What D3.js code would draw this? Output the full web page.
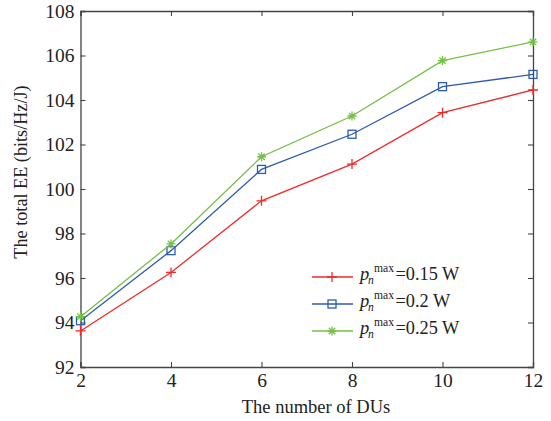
<!DOCTYPE html>
<html>
<head>
<meta charset="utf-8">
<script src="https://cdn.jsdelivr.net/npm/d3@7"></script>
<style>
  html, body { margin: 0; padding: 0; background: #fff; }
  svg { display: block; font-family: "Liberation Serif", "Times New Roman", serif; }
</style>
</head>
<body>
<svg id="chart" width="551" height="421"></svg>
<script>
// Number of DUs on the x axis
const dus = [2, 4, 6, 8, 10, 12];
// Total energy efficiency (bits/Hz/J) for each per-DU power budget
const ee015 = [93.62, 96.25, 99.47, 101.12, 103.43, 104.45];
const ee02  = [94.08, 97.23, 100.88, 102.46, 104.60, 105.15];
const ee025 = [94.26, 97.53, 101.45, 103.28, 105.77, 106.61];
const seriesLabels = ["=0.15 W", "=0.2 W", "=0.25 W"];
const xTicks = [2, 4, 6, 8, 10, 12];
const yTicks = [92, 94, 96, 98, 100, 102, 104, 106, 108];

const series = [
  { values: ee015, label: seriesLabels[0], color: "#ee2b2b", marker: "plus" },
  { values: ee02,  label: seriesLabels[1], color: "#2d5caf", marker: "square" },
  { values: ee025, label: seriesLabels[2], color: "#74c044", marker: "star" }
];

const svg = d3.select("#chart");
const m = { left: 80.5, right: 533, top: 11, bottom: 367 };
const x = d3.scaleLinear().domain([2, 12]).range([m.left, m.right]);
const y = d3.scaleLinear().domain([92, 108]).range([m.bottom, m.top]);
const axisColor = "#444";
const tickLen = 5;
const serif = "'Liberation Serif', 'Times New Roman', serif";

// Box-style axes with inward ticks on all four sides
const gx = svg.append("g").attr("transform", `translate(0,${m.bottom})`)
  .call(d3.axisBottom(x).tickValues(xTicks).tickSize(-tickLen).tickPadding(6.5).tickFormat(d3.format("d")));
const gxTop = svg.append("g").attr("transform", `translate(0,${m.top})`)
  .call(d3.axisTop(x).tickValues(xTicks).tickSize(-tickLen).tickFormat(""));
const gy = svg.append("g").attr("transform", `translate(${m.left},0)`)
  .call(d3.axisLeft(y).tickValues(yTicks).tickSize(-tickLen).tickPadding(6).tickFormat(d3.format("d")));
const gyR = svg.append("g").attr("transform", `translate(${m.right},0)`)
  .call(d3.axisRight(y).tickValues(yTicks).tickSize(-tickLen).tickFormat(""));

[gx, gxTop, gy, gyR].forEach(g => {
  g.select(".domain").attr("stroke", axisColor).attr("stroke-width", 1.3);
  g.selectAll(".tick line").attr("stroke", axisColor).attr("stroke-width", 1.1);
  g.selectAll(".tick text").attr("fill", "#222").style("font-size", "19.5px")
    .style("font-family", serif);
});
gy.selectAll(".tick text").attr("dy", "0.32em");

// Axis titles
svg.append("text")
  .attr("x", 316).attr("y", 413)
  .attr("text-anchor", "middle").attr("fill", "#222").style("font-size", "18.5px")
  .text("The number of DUs");
svg.append("text")
  .attr("transform", "translate(26.5,172) rotate(-90)")
  .attr("text-anchor", "middle").attr("fill", "#222").style("font-size", "18.2px")
  .text("The total EE (bits/Hz/J)");

// Marker drawing
function drawMarker(g, type, cx, cy, color) {
  if (type === "plus") {
    g.append("path").attr("d", `M${cx - 5},${cy}H${cx + 5}M${cx},${cy - 5}V${cy + 5}`)
      .attr("stroke", color).attr("stroke-width", 1.3).attr("fill", "none");
  } else if (type === "square") {
    g.append("rect").attr("x", cx - 4).attr("y", cy - 4).attr("width", 8).attr("height", 8)
      .attr("stroke", color).attr("stroke-width", 1.3).attr("fill", "none");
  } else {
    const r = 4.5, d = r * 0.7071;
    g.append("path")
      .attr("d", `M${cx - r},${cy}H${cx + r}M${cx},${cy - r}V${cy + r}M${cx - d},${cy - d}L${cx + d},${cy + d}M${cx - d},${cy + d}L${cx + d},${cy - d}`)
      .attr("stroke", color).attr("stroke-width", 1.3).attr("fill", "none");
  }
}

const line = d3.line().x((d, i) => x(dus[i])).y(d => y(d));
const plot = svg.append("g");
series.forEach(s => {
  plot.append("path").datum(s.values).attr("d", line)
    .attr("fill", "none").attr("stroke", s.color).attr("stroke-width", 1.3);
  s.values.forEach((v, i) => drawMarker(plot, s.marker, x(dus[i]), y(v), s.color));
});

// Legend (no frame)
const legend = svg.append("g");
const legX0 = 312, legX1 = 353, legY = [277, 304, 331];
series.forEach((s, i) => {
  const ly = legY[i];
  legend.append("line").attr("x1", legX0).attr("x2", legX1).attr("y1", ly).attr("y2", ly)
    .attr("stroke", s.color).attr("stroke-width", 1.3);
  drawMarker(legend, s.marker, 332, ly, s.color);
  legend.append("text").attr("x", 360).attr("y", ly + 2.5)
    .attr("fill", "#222").style("font-size", "18.5px").style("font-style", "italic").text("p");
  legend.append("text").attr("x", 374).attr("y", ly - 5.5)
    .attr("fill", "#222").style("font-size", "11.6px").text("max");
  legend.append("text").attr("x", 368).attr("y", ly + 7)
    .attr("fill", "#222").style("font-size", "11.6px").style("font-style", "italic").text("n");
  legend.append("text").attr("x", 395.5).attr("y", ly + 2.5)
    .attr("fill", "#222").style("font-size", "18.3px").text(s.label);
});
</script>
</body>
</html>
